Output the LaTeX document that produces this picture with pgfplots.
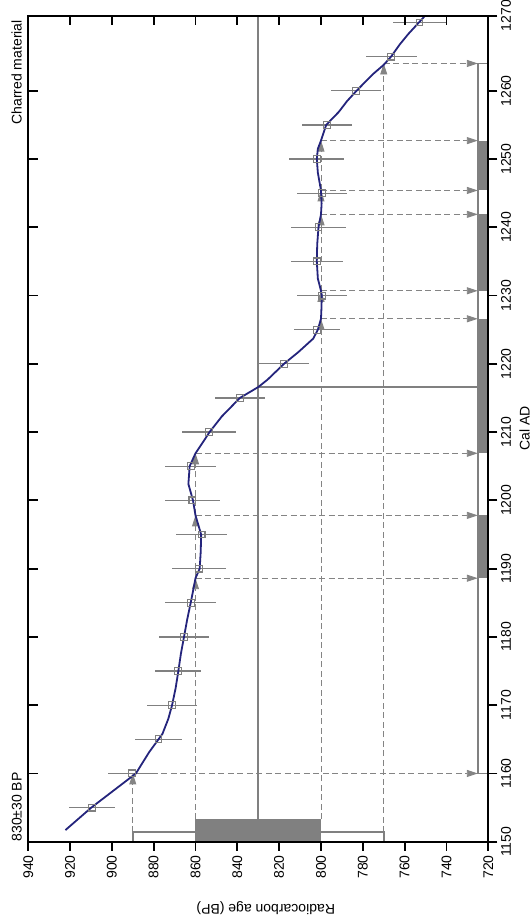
\documentclass[border=0pt]{standalone}
\usepackage{fontspec}
\setmainfont{Liberation Sans}
\usepackage{pgfplots}
\pgfplotsset{compat=1.18}
\usepackage{pgfplotstable}
\usetikzlibrary{arrows.meta}
\definecolor{curvecol}{RGB}{36,36,124}
\definecolor{mgray}{RGB}{128,128,128}
\definecolor{dgray}{RGB}{132,132,132}

% radiocarbon determinations: calendar year, BP, 1-sigma
\pgfplotstableread{
yr bp e
1155 909.4 10.9
1160 890.3 11.7
1165 877.7 11.2
1170 871.2 11.8
1175 868.4 11.2
1180 865.5 12.0
1185 862.3 12.1
1190 858.2 13.0
1195 857.1 12.0
1200 861.5 13.0
1205 862.3 12.1
1210 853.4 13.0
1215 838.8 12.0
1220 817.7 11.9
1225 802.0 11.1
1230 799.6 11.9
1235 802.0 12.3
1240 801.2 13.1
1245 799.6 11.9
1250 802.0 13.1
1255 797.2 12.1
1260 783.1 12.0
1265 766.4 12.1
1270 752.9 12.8
}\points

% calibration curve: calendar year, BP
\pgfplotstableread{
yr bp
1151.7 922.2
1155.0 909.8
1158.8 893.6
1160.0 888.5
1163.1 882.2
1165.8 875.8
1168.0 873.0
1170.0 871.2
1172.5 869.5
1175.0 868.2
1177.5 867.0
1180.0 865.5
1182.5 864.0
1185.0 862.3
1187.0 861.0
1188.6 860.0
1190.0 858.0
1192.5 857.5
1195.0 857.3
1197.8 860.0
1200.0 861.2
1202.4 863.4
1205.0 862.8
1206.9 860.0
1208.5 856.5
1210.0 853.3
1212.3 847.4
1215.0 838.8
1216.6 830.0
1217.7 825.5
1220.0 817.7
1221.7 810.9
1223.7 803.7
1225.0 801.5
1226.6 800.0
1228.0 799.8
1230.0 799.6
1230.7 800.0
1232.5 801.5
1235.0 802.0
1237.5 801.8
1240.0 801.2
1241.9 800.0
1243.5 799.7
1245.4 800.0
1248.0 801.5
1250.0 802.0
1251.5 801.5
1252.7 800.0
1255.0 797.5
1256.9 791.5
1258.5 787.5
1260.0 783.0
1262.4 775.3
1263.8 770.0
1265.0 766.5
1266.8 762.3
1268.3 758.3
1271.0 750.2
}\curvetab

\begin{document}
\begin{tikzpicture}[font=\fontsize{14bp}{16bp}\selectfont,
  darr/.style={dgray, line width=0.9bp, dash pattern=on 6bp off 3.5bp,
    -{Triangle[length=11bp,width=7bp]}, no marks},
  sline/.style={mgray, line width=1.6bp, no marks}]
\begin{axis}[
  at={(28.2bp,82.3bp)}, anchor=south west, scale only axis,
  width=460.1bp, height=826bp,
  xmin=720, xmax=940, x dir=reverse,
  ymin=1150, ymax=1271,
  axis line style={line width=1.8bp, black},
  xtick={720,740,760,780,800,820,840,860,880,900,920,940},
  xticklabels={720,740,760,780,800,820,840,860,880,900,920,940},
  ytick={1150,1160,1170,1180,1190,1200,1210,1220,1230,1240,1250,1260,1271},
  yticklabels={1150,1160,1170,1180,1190,1200,1210,1220,1230,1240,1250,1260,1270},
  tick align=outside, xtick pos=left, ytick pos=right, yticklabel pos=right,
  major tick length=9bp,
  every tick/.style={line width=1.8bp, black},
  xticklabel style={rotate=90, anchor=east, inner sep=0pt},
  yticklabel style={rotate=90, anchor=north, inner sep=0pt},
  xticklabel shift=4.5bp, yticklabel shift=3.5bp,
  clip=false,
]
% dashed guide lines with arrows
\addplot[darr] coordinates {(890,1151.4) (890,1160)};
\addplot[darr] coordinates {(860,1153.3) (860,1188.6)};
\addplot[darr] coordinates {(860,1188.6) (860,1197.8)};
\addplot[darr] coordinates {(860,1197.8) (860,1206.9)};
\addplot[darr] coordinates {(800,1153.3) (800,1226.6)};
\addplot[darr] coordinates {(800,1226.6) (800,1230.7)};
\addplot[darr] coordinates {(800,1230.7) (800,1241.9)};
\addplot[darr] coordinates {(800,1241.9) (800,1245.4)};
\addplot[darr] coordinates {(800,1245.4) (800,1252.7)};
\addplot[darr] coordinates {(770,1151.4) (770,1264)};
\addplot[darr] coordinates {(890,1160) (725,1160)};
\addplot[darr] coordinates {(860,1188.6) (725,1188.6)};
\addplot[darr] coordinates {(860,1197.8) (725,1197.8)};
\addplot[darr] coordinates {(860,1206.9) (725,1206.9)};
\addplot[darr] coordinates {(800,1226.6) (725,1226.6)};
\addplot[darr] coordinates {(800,1230.7) (725,1230.7)};
\addplot[darr] coordinates {(800,1241.9) (725,1241.9)};
\addplot[darr] coordinates {(800,1245.4) (725,1245.4)};
\addplot[darr] coordinates {(800,1252.7) (725,1252.7)};
\addplot[darr] coordinates {(770,1264) (725,1264)};
% measured value and intercept
\addplot[sline] coordinates {(830,1153.3) (830,1271)};
\addplot[sline] coordinates {(830,1216.6) (725,1216.6)};
% BP ranges
\addplot[draw=mgray, fill=white, line width=1.6bp, no marks] coordinates {(890,1150) (890,1151.4) (770,1151.4) (770,1150)} -- cycle;
\addplot[draw=mgray, fill=mgray, line width=1bp, no marks] coordinates {(860,1150) (860,1153.3) (800,1153.3) (800,1150)} -- cycle;
% calendar ranges
\addplot[draw=mgray, fill=white, line width=1.6bp, no marks] coordinates {(725,1160) (725,1264) (720,1264) (720,1160)} -- cycle;
\addplot[draw=none, fill=mgray, no marks] coordinates {(725,1188.6) (725,1197.8) (720,1197.8) (720,1188.6)} -- cycle;
\addplot[draw=none, fill=mgray, no marks] coordinates {(725,1206.9) (725,1226.6) (720,1226.6) (720,1206.9)} -- cycle;
\addplot[draw=none, fill=mgray, no marks] coordinates {(725,1230.7) (725,1241.9) (720,1241.9) (720,1230.7)} -- cycle;
\addplot[draw=none, fill=mgray, no marks] coordinates {(725,1245.4) (725,1252.7) (720,1252.7) (720,1245.4)} -- cycle;
% data points with error bars
\addplot[only marks, mark=square, mark size=3.4bp,
  mark options={mgray, line width=1.1bp, fill=none},
  error bars/.cd, x dir=both, x explicit, error mark=none,
  error bar style={mgray, line width=1.3bp}]
  table[x=bp, y=yr, x error=e] {\points};
% calibration curve
\addplot[curvecol, line width=1.8bp, no marks] table[x=bp, y=yr] {\curvetab};
% texts
\node[rotate=90, anchor=base west, inner sep=0pt] at ([xshift=-6.5bp]rel axis cs:0,0) {830±30 BP};
\node[rotate=90, anchor=base east, inner sep=0pt] at ([xshift=-6.5bp,yshift=-4.3bp]rel axis cs:0,1) {Charred material};
\node[rotate=90, anchor=north, inner sep=0pt] at ([xshift=31bp]rel axis cs:1,0.5) {Cal AD};
\node[rotate=180, anchor=base, inner sep=0pt] at ([xshift=7.5bp,yshift=-62.3bp]rel axis cs:0.5,0) {Radiocarbon age (BP)};
\end{axis}
\begin{axis}[
  at={(28.2bp,82.3bp)}, anchor=south west, scale only axis,
  width=460.1bp, height=826bp,
  xmin=720, xmax=940, x dir=reverse,
  ymin=1150, ymax=1271,
  axis line style={line width=1.8bp, black},
  xtick={720,740,760,780,800,820,840,860,880,900,920,940},
  ytick={1150,1160,1170,1180,1190,1200,1210,1220,1230,1240,1250,1260,1271},
  xticklabels={}, yticklabels={},
  tick align=inside, xtick pos=right, ytick pos=left,
  major tick length=9.5bp,
  every tick/.style={line width=1.8bp, black},
]
\end{axis}
\pgfresetboundingbox
\path[use as bounding box] (0,0) rectangle (531bp,924bp);
\end{tikzpicture}
\end{document}
